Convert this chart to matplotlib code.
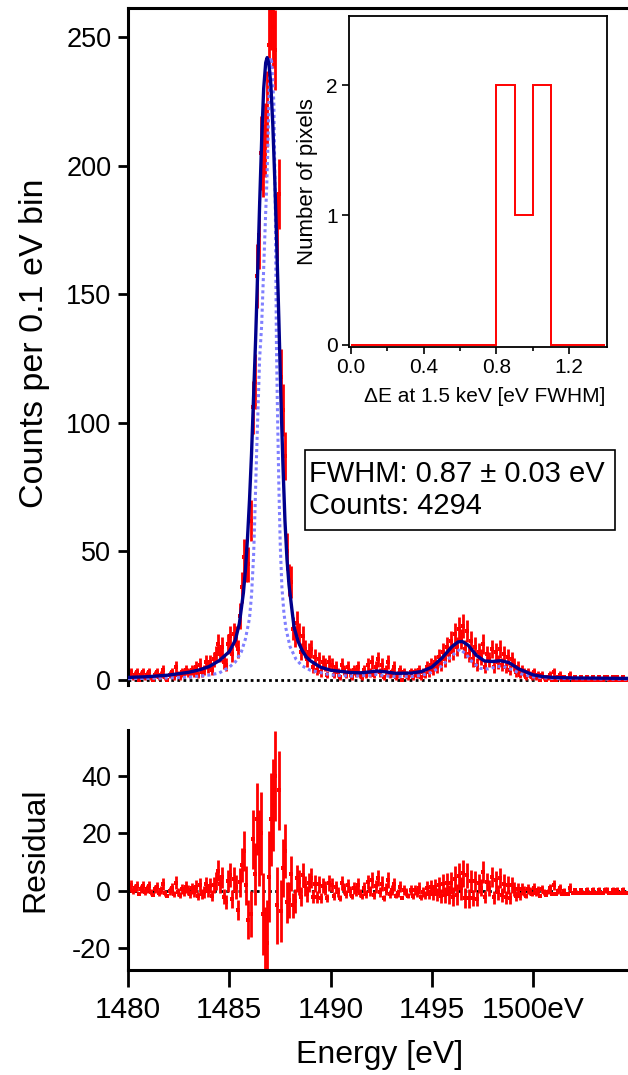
import numpy as np
import matplotlib
matplotlib.use("Agg")
import matplotlib.pyplot as plt
from matplotlib.patches import Rectangle

plt.rcParams['font.family'] = ['Liberation Sans', 'DejaVu Sans']
plt.rcParams['axes.unicode_minus'] = False

# ---------------- data ----------------
# histogram: 0.1 eV bins starting at 1480.0 eV
bin_start = 1480.0
bin_width = 0.1

counts = [
    # 1480.0 - 1483.9
    2, 3, 1, 2, 3, 0, 2, 3, 1, 2, 3, 1, 0, 2, 3, 1, 2, 4, 1, 0,
    2, 3, 1, 5, 2, 1, 3, 2, 4, 3, 2, 4, 3, 5, 2, 6, 3, 4, 7, 5,
    # 1484.0 - 1485.9
    7, 4, 8, 10, 14, 10, 13, 7, 6, 14, 17, 10, 18, 17, 12, 25, 36, 48, 45, 45,
    # 1486.0 - 1488.9
    62, 106, 116, 157, 173, 205, 202, 210, 222, 247,
    261, 254, 245, 176, 189, 118, 105, 87, 50, 39,
    38, 20, 17, 22, 18, 11, 17, 12, 8, 11,
    # 1489.0 - 1494.9
    12, 5, 9, 4, 8, 3, 7, 6, 2, 7, 6, 2, 5, 3, 1, 6, 4, 2, 5, 3,
    1, 4, 3, 5, 2, 1, 4, 2, 6, 3, 7, 2, 5, 8, 3, 6, 1, 4, 7, 2,
    3, 5, 1, 2, 4, 0, 3, 2, 1, 3, 1, 3, 2, 4, 1, 3, 2, 5, 3, 6,
    # 1495.0 - 1499.9
    4, 7, 5, 9, 6, 11, 8, 13, 10, 15, 11, 18, 13, 20, 16, 21, 12, 19, 10, 15,
    8, 13, 6, 11, 9, 14, 5, 10, 8, 12, 5, 11, 7, 12, 6, 10, 5, 9, 4, 8,
    6, 3, 5, 2, 4, 3, 1, 3, 2, 1,
    # 1500.0 - 1504.9
    3, 1, 2, 0, 2, 1, 0, 1, 2, 0, 3, 0, 1, 2, 0, 1, 0, 0, 2, 0,
    1, 0, 0, 1, 0, 0, 1, 0, 0, 1, 0, 0, 1, 0, 0, 1, 1, 0, 0, 1,
    0, 1, 0, 0, 1, 0, 0, 0, 1, 0,
]

residual = [
    1.0, 2.0, -0.1, 0.9, 1.9, -1.2, 0.8, 1.8, -0.3, 0.7, 1.7, -0.4, -1.4, 0.6, 1.5, -0.6, 0.4, 2.4, -0.7, -1.8,
    0.1, 1.1, -1.0, 2.9, -0.2, -1.3, 0.6, -0.5, 1.4, 0.2, -1.0, 0.9, -0.3, 1.5, -1.7, 2.1, -1.1, -0.4, 2.3, 0.0,
    1.8, -1.6, 2.0, 3.6, 7.1, 2.5, 4.8, -2.0, -3.8, 3.4, 5.5, -2.7, 4.0, 1.5, -6.5, 3.0, 9.0, 14.0, 2.0, -10.0,
    -8, 18, 6, 25, 15, 20, -8, -20, -18, 5,
    25, 30, 40, -5, 35, -7, 8, 14, -4, -3,
    6, -5, -3.5, 4.5, 3, -2, 5.5, 1.8, -1, 2.8,
    4.5, -2.0, 2.5, -2.1, 2.3, -2.4, 1.9, 1.2, -2.5, 2.8, 2.2, -1.7, 1.4, -0.5, -2.4, 2.7, 0.8, -1.1, 2.0, 0.0,
    -1.9, 1.1, 0.1, 2.2, -0.8, -1.8, 1.2, -0.9, 3.0, -0.1, 3.8, -1.3, 1.6, 4.5, -0.5, 2.6, -2.4, 0.7, 3.8, -1.0,
    0.2, 2.3, -1.6, -0.6, 1.5, -2.5, 0.5, -0.5, -1.6, 0.4, -1.7, 0.3, -0.8, 1.1, -2.0, -0.3, -1.5, 1.2, -1.1, 1.5,
    -1.0, 1.4, -1.2, 2.0, -1.8, 2.5, -1.4, 2.7, -1.2, 2.9, -2.0, 4.3, -1.3, 5.2, 1.0, 6.1, -2.4, 5.4, -2.6, 3.5,
    -2.5, 3.4, -2.9, 2.7, 1.2, 6.6, -2.1, 3.0, 1.0, 4.9, -2.2, 3.7, -0.4, 4.5, -1.5, 2.6, -2.2, 2.1, -2.5, 2.0,
    0.6, -1.8, 0.7, -1.8, 0.7, 0.1, -1.6, 0.7, -0.1, -0.9,
    1.1, -0.8, 0.3, -1.6, 0.6, -0.4, -1.3, -0.2, 0.9, -1.1, 2.0, -1.0, 0.0, 1.1, -0.9, 0.1, -0.9, -0.9, 1.2, -0.8,
    0.2, -0.8, -0.8, 0.2, -0.8, -0.8, 0.3, -0.7, -0.7, 0.3, -0.7, -0.7, 0.3, -0.7, -0.7, 0.3, 0.3, -0.7, -0.7, 0.4,
    -0.6, 0.4, -0.6, -0.6, 0.4, -0.6, -0.6, -0.6, 0.4, -0.6,
]

# fitted line shape (solid dark blue)
fit_energy = [1480.0, 1481.0, 1482.0, 1483.0, 1483.5, 1484.0, 1484.5, 1485.0, 1485.3, 1485.5,
              1485.7, 1485.8, 1485.9, 1486.0, 1486.1, 1486.2, 1486.3, 1486.4, 1486.5, 1486.6,
              1486.7, 1486.8, 1486.87, 1486.95, 1487.05, 1487.15, 1487.25, 1487.35, 1487.45, 1487.55,
              1487.65, 1487.75, 1487.85, 1487.95, 1488.1, 1488.2, 1488.4, 1488.6, 1488.8, 1489.0,
              1489.5, 1490.0, 1491.0, 1491.5, 1492.0, 1492.3, 1492.7, 1493.2, 1494.0, 1494.5,
              1495.0, 1495.5, 1496.0, 1496.3, 1496.5, 1496.8, 1497.2, 1497.6, 1498.0, 1498.4,
              1498.8, 1499.3, 1500.0, 1500.5, 1501.0, 1502.0, 1505.0]
fit_counts = [1.0, 1.3, 1.9, 3.0, 3.9, 5.2, 7.5, 11.0, 15.5, 22.0,
              34, 43, 55, 70, 88, 110, 132, 158, 185, 210,
              230, 240, 242, 240, 232, 216, 194, 168, 140, 110,
              84, 62, 47, 37, 27, 20.5, 15, 11.5, 9, 7.5,
              5, 3.8, 2.9, 2.8, 3.2, 3.5, 3.2, 2.6, 2.7, 3.3,
              5, 8.5, 13, 14.8, 15, 13.5, 9.6, 7.4, 7.2, 7.5,
              6.8, 4.3, 2.0, 1.3, 1.0, 0.8, 0.6]

# natural line shape (dotted light blue)
nat_energy = [1480.0, 1482.0, 1483.0, 1484.0, 1484.5, 1485.0, 1485.3, 1485.6, 1485.8, 1486.0,
              1486.1, 1486.2, 1486.25, 1486.35, 1486.44, 1486.5, 1486.6, 1486.7, 1486.8, 1486.85,
              1486.9, 1486.95, 1487.0, 1487.05, 1487.1, 1487.15, 1487.2, 1487.28, 1487.33, 1487.38,
              1487.45, 1487.52, 1487.6, 1487.7, 1487.8, 1488.0, 1488.3, 1488.6, 1489.0, 1490.0,
              1491.0, 1492.0, 1492.3, 1492.6, 1493.0, 1494.0, 1494.5, 1495.0, 1495.5, 1496.0,
              1496.4, 1496.7, 1497.0, 1497.4, 1497.8, 1498.2, 1498.5, 1498.9, 1499.4, 1500.0,
              1501.0, 1505.0]
nat_counts = [0.5, 0.8, 1.1, 1.9, 2.7, 5.0, 7.0, 11.0, 16.0, 24.0,
              33, 48, 60, 88, 110, 125, 138, 160, 182, 192,
              205, 222, 236, 242, 240, 232, 225, 180, 130, 105,
              75, 52, 36, 26, 20, 13, 8, 5.5, 3.8, 2.0,
              1.5, 1.8, 2.2, 1.8, 1.3, 1.3, 1.8, 3.0, 5.5, 9.5,
              12, 10, 7, 4.5, 4.3, 5.2, 5.4, 4.2, 2.4, 1.2,
              0.6, 0.3]

# inset histogram of pixel resolutions
inset_edges = [0.0, 0.1, 0.2, 0.3, 0.4, 0.5, 0.6, 0.7, 0.8, 0.9, 1.0, 1.1, 1.2, 1.3, 1.4]
inset_pixels = [0, 0, 0, 0, 0, 0, 0, 0, 2, 1, 2, 0, 0, 0]

main_yticks = [0, 50, 100, 150, 200, 250]
res_yticks = [-20, 0, 20, 40]
energy_ticks = [1480, 1485, 1490, 1495, 1500]
energy_ticklabels = ['1480', '1485', '1490', '1495', '1500eV']
inset_xticks = [0.0, 0.4, 0.8, 1.2]
inset_xticklabels = ['0.0', '0.4', '0.8', '1.2']
inset_yticks = [0, 1, 2]
stats_lines = ["FWHM: 0.87 \u00b1 0.03 eV", "Counts: 4294"]

# ---------------- derived ----------------
counts = np.array(counts, dtype=float)
residual = np.array(residual, dtype=float)
energy = bin_start + bin_width * (np.arange(len(counts)) + 0.5)
err = np.sqrt(counts)

# ---------------- figure ----------------
W, H = 628, 1075
fig = plt.figure(figsize=(W / 100, H / 100), dpi=100)

def ax_rect(x0, y0, x1, y1):
    return [x0 / W, 1 - y1 / H, (x1 - x0) / W, (y1 - y0) / H]

def fx(px):
    return px / W

def fy(py):
    return 1 - py / H

RED = '#ff0000'
NAVY = '#00008c'
LIGHT = '#8080ff'
YTICK_FS = 19.5
XTICK_FS = 21.5

# main panel
ax = fig.add_axes(ax_rect(128, 8, 628, 685))
ax.axhline(0, color='black', ls=(0, (1, 1.2)), lw=2.0, zorder=1)
ax.errorbar(energy, counts, yerr=err, fmt='s', ms=2.6, mew=0, color=RED,
            ecolor=RED, elinewidth=2.0, capsize=0, zorder=2)
ax.plot(nat_energy, nat_counts, color=LIGHT, lw=2.2, ls=(0, (1, 1)), zorder=3)
ax.plot(fit_energy, fit_counts, color=NAVY, lw=2.4, zorder=4)
ax.set_xlim(1480, 1504.69)
ax.set_ylim(-1.944, 261.28)
ax.set_yticks(main_yticks)
ax.tick_params(axis='y', direction='out', length=7, width=2, labelsize=YTICK_FS, pad=5)
ax.tick_params(axis='x', bottom=False, labelbottom=False)
for s in ['right', 'bottom']:
    ax.spines[s].set_visible(False)
for s in ['left', 'top']:
    ax.spines[s].set_linewidth(2.2)

fig.text(fx(35), fy(343), 'Counts per 0.1 eV bin', rotation=90,
         ha='center', va='center', fontsize=24.5)

# statistics box
fig.add_artist(Rectangle((fx(305), fy(530)), fx(615) - fx(305), fy(450) - fy(530),
                         transform=fig.transFigure, fc='white', ec='black', lw=1.2))
fig.text(fx(309), fy(482), stats_lines[0], ha='left', va='baseline', fontsize=21)
fig.text(fx(309), fy(514), stats_lines[1], ha='left', va='baseline', fontsize=21)

# residual panel
axr = fig.add_axes(ax_rect(128, 730, 628, 970))
axr.axhline(0, color='black', ls=(0, (1, 1.2)), lw=2.0, zorder=1)
axr.errorbar(energy, residual, yerr=err, fmt='s', ms=2.6, mew=0, color=RED,
             ecolor=RED, elinewidth=2.0, capsize=0, zorder=2)
axr.set_xlim(1480, 1504.69)
axr.set_ylim(-27.48, 56.0)
axr.set_yticks(res_yticks)
axr.set_xticks(energy_ticks)
axr.set_xticklabels(energy_ticklabels)
axr.tick_params(axis='y', direction='out', length=7, width=2, labelsize=YTICK_FS, pad=5)
axr.tick_params(axis='x', direction='out', length=12, width=2, labelsize=XTICK_FS, pad=7)
for s in ['right', 'top']:
    axr.spines[s].set_visible(False)
for s in ['left', 'bottom']:
    axr.spines[s].set_linewidth(2.2)

fig.text(fx(35), fy(850), 'Residual', rotation=90, ha='center', va='center', fontsize=23)
fig.text(fx(380), fy(1055), 'Energy [eV]', ha='center', va='center', fontsize=23)

# inset
axi = fig.add_axes(ax_rect(349, 16, 607, 347))
axi.set_zorder(10)
axi.stairs(inset_pixels, inset_edges, color=RED, lw=1.4, baseline=None)
axi.set_xlim(-0.011, 1.409)
axi.set_ylim(-0.0154, 2.531)
axi.set_xticks(inset_xticks)
axi.set_xticklabels(inset_xticklabels)
axi.set_xticks([0.2, 0.6, 1.0], minor=True)
axi.set_yticks(inset_yticks)
axi.tick_params(axis='both', which='major', direction='out', length=5, width=1.2,
                labelsize=15, pad=3)
axi.tick_params(axis='x', which='minor', direction='out', length=3, width=1.2)
for s in axi.spines.values():
    s.set_linewidth(1.3)
fig.text(fx(307), fy(182), 'Number of pixels', rotation=90, ha='center',
         va='center', fontsize=16)
fig.text(fx(485), fy(396), '\u0394E at 1.5 keV [eV FWHM]', ha='center',
         va='center', fontsize=15)

fig.savefig('out.png', dpi=100)
